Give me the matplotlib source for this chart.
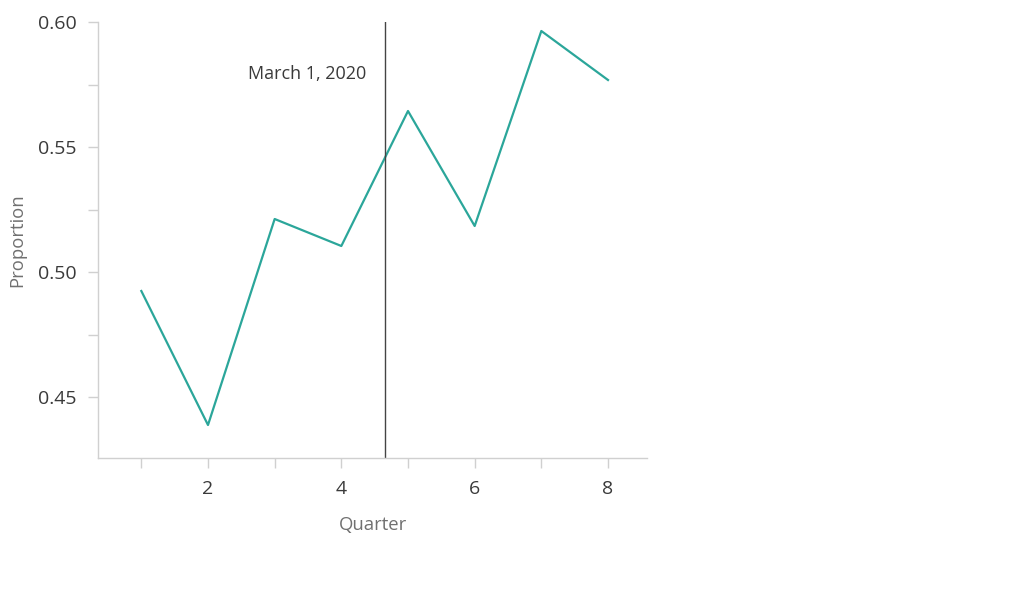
import matplotlib
matplotlib.use("Agg")
import matplotlib.pyplot as plt
from matplotlib.ticker import MultipleLocator

plt.rcParams['font.family'] = ['Open Sans', 'DejaVu Sans']

quarters = [1, 2, 3, 4, 5, 6, 7, 8]
proportion = [0.4924, 0.4388, 0.5212, 0.5104, 0.5644, 0.5184, 0.5964, 0.5768]
event_x = 4.66
event_label = "March 1, 2020"

fig = plt.figure(figsize=(10.24, 6.16), dpi=100)
ax = fig.add_axes([98/1024, 1-458/616, (647-98)/1024, (458-22)/616])

ax.plot(quarters, proportion, color='#2ba69a', lw=1.6)
ax.axvline(event_x, color='#444444', lw=1.0)
ax.annotate(event_label, xy=(event_x, 0.5792), xycoords='data',
            xytext=(-13.5, 0), textcoords='offset points',
            ha='right', va='center', fontsize=13.0, color='#3a3a3a')

ax.set_xlim(0.35, 8.585)
ax.set_ylim(0.4256, 0.60)
ax.xaxis.set_major_locator(MultipleLocator(2))
ax.xaxis.set_minor_locator(MultipleLocator(1))
ax.yaxis.set_major_locator(MultipleLocator(0.05))
ax.yaxis.set_minor_locator(MultipleLocator(0.025))
ax.yaxis.set_major_formatter(matplotlib.ticker.FormatStrFormatter('%.2f'))

for s in ['top', 'right']:
    ax.spines[s].set_visible(False)
for s in ['left', 'bottom']:
    ax.spines[s].set_color('#d0d0d0')
    ax.spines[s].set_linewidth(1.0)

ax.tick_params(which='both', length=7.5, width=1.0, color='#d0d0d0')
ax.tick_params(which='major', labelsize=14, labelcolor='#3a3a3a', pad=8)

ax.set_xlabel('Quarter', fontsize=13.3, color='#707070', labelpad=13)
ax.set_ylabel('Proportion', fontsize=13.3, color='#707070', labelpad=8)

fig.savefig('out.png', dpi=100, facecolor='white')
